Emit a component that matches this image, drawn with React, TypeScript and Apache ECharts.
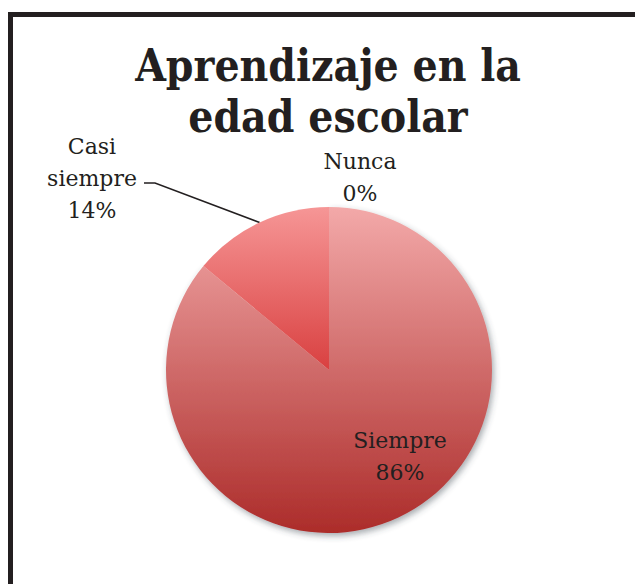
import React, { useEffect, useRef } from "react";
import * as echarts from "echarts";

const TITLE = "Aprendizaje en la\nedad escolar";
const categories = ["Siempre", "Casi siempre", "Nunca"];
const values = [86, 14, 0];

const gradients: [string, string][] = [
  ["#f3a9a9", "#ac2c2a"],
  ["#f69696", "#d94040"],
  ["#f3a9a9", "#ac2c2a"],
];

// label anchor centres (layout, not data)
const LABEL_POS: [number, number][] = [
  [400, 456],
  [92, 178],
  [360, 177],
];

export default function App() {
  const ref = useRef<HTMLDivElement>(null);
  useEffect(() => {
    if (!ref.current) return;
    const chart = echarts.init(ref.current, undefined, { renderer: "svg" });
    const font = "'DejaVu Serif', serif";
    chart.setOption({
      animation: false,
      backgroundColor: "#ffffff",
      title: {
        text: TITLE,
        left: 328,
        top: 40,
        padding: 0,
        textAlign: "center",
        textStyle: {
          fontFamily: "'DejaVu Serif Condensed', 'DejaVu Serif', serif",
          fontWeight: "bold",
          fontSize: 44,
          lineHeight: 51,
          color: "#231f20",
        },
      },
      graphic: [
        {
          type: "rect",
          shape: { x: 10.5, y: 14.5, width: 700, height: 700 },
          style: { fill: "none", stroke: "#231f20", lineWidth: 5 },
          silent: true,
          z: 100,
        },
      ],
      series: [
        {
          type: "pie",
          center: [329, 370],
          radius: 163,
          startAngle: 90,
          clockwise: true,
          label: {
            show: true,
            position: "outside",
            fontFamily: font,
            fontSize: 22,
            lineHeight: 32,
            color: "#231f20",
            align: "center",
            formatter: (p: any) =>
              p.name.replace(" ", "\n") + "\n" + Math.round(p.percent) + "%",
          },
          labelLine: { show: false },
          labelLayout: (params: any) => {
            const pos = LABEL_POS[params.dataIndex];
            const res: any = {
              x: pos[0],
              y: pos[1],
              align: "center",
              verticalAlign: "middle",
            };
            if (params.dataIndex === 1 && params.labelLinePoints) {
              res.labelLinePoints = [
                params.labelLinePoints[0],
                [155, 183],
                [144, 183],
              ];
            }
            return res;
          },
          data: categories.map((name, i) => ({
            name,
            value: values[i],
            itemStyle: {
              color: new echarts.graphic.LinearGradient(0, 0, 0, 1, [
                { offset: 0, color: gradients[i][0] },
                { offset: 1, color: gradients[i][1] },
              ]),
              borderWidth: 0,
              ...(i === 0
                ? {
                    shadowBlur: 6,
                    shadowColor: "rgba(60,70,80,0.45)",
                    shadowOffsetX: 2,
                    shadowOffsetY: 3,
                  }
                : {}),
            },
            labelLine:
              i === 1
                ? { show: true, lineStyle: { color: "#231f20", width: 1.5 } }
                : { show: false },
          })),
        },
      ],
    });
    return () => chart.dispose();
  }, []);
  return (
    <div
      ref={ref}
      style={{ position: "fixed", left: 0, top: 0, width: 635, height: 584 }}
    />
  );
}
